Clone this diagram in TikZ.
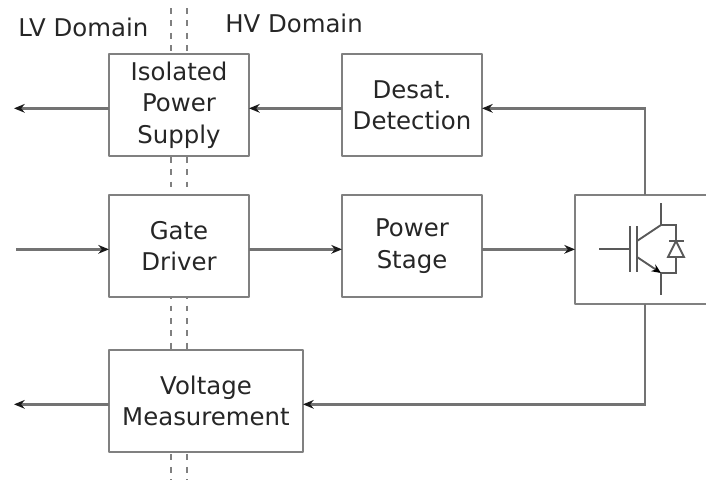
\documentclass[tikz,border=0pt]{standalone}
\usepackage{xcolor}
\usepackage{fontspec}
\setmainfont{DejaVu Sans}
\usetikzlibrary{arrows.meta, positioning, calc}

\begin{document}
\begin{tikzpicture}[
    x=0.75pt, y=-0.75pt,
    node distance=29.25pt and 69.75pt,
    block/.style={rectangle, draw=black!50, line width=1.9pt, line join=round, fill=white, inner sep=0pt, outer sep=0pt, minimum width=105pt, minimum height=76.5pt, align=center, text=black!85, font=\fontsize{18.3}{23.5}\selectfont},
    sidelabel/.style={inner sep=0pt, text=black!85, font=\fontsize{18.3}{22}\selectfont},
    arrow/.style={-{Stealth[length=8pt, width=6.5pt, color=black!90]}, line width=1.8pt, draw=black!55},
    barrier/.style={line width=1.9pt, draw=black!50, dash pattern=on 4.4pt off 4.9pt},
    device/.style={line width=1.4pt, draw=black!65}
]
\useasboundingbox (0,0) rectangle (706,480);

% Isolation barrier
\coordinate (barriertopa) at (171,8);
\coordinate (barrierbota) at (171,480);
\coordinate (barriertopb) at (187,8);
\coordinate (barrierbotb) at (187,480);
\draw[barrier] (barriertopa) -- (barrierbota);
\draw[barrier] (barriertopb) -- (barrierbotb);

% Domain labels
\node[sidelabel, anchor=base west] (lvlabel) at (18,36) {LV Domain};
\node[sidelabel, anchor=base west] (hvlabel) at (225,32) {HV Domain};

% Row 1: Supply and desaturation
\node[block, anchor=north west] (supply) at (109,54) {Isolated\\Power\\Supply};
\node[block, right=of supply] (desat) {Desat.\\Detection};

% Row 2: Driver, power stage, switch
\node[block, below=of supply] (driver) {Gate\\Driver};
\node[block, right=of driver] (stage) {\raisebox{1.5pt}{Power}\\\raisebox{1.5pt}{Stage}};
\node[block, anchor=north west, minimum height=81.75pt] (igbt) at (575,195) {};

% Row 3: Measurement
\node[block, anchor=north west, minimum width=145.5pt] (meas) at (109,350) {Voltage\\Measurement};

% Free ends
\coordinate (supplyout) at ([xshift=-71.25pt, yshift=-2.5pt]supply.west);
\coordinate (driverin) at ([xshift=-69.75pt, yshift=-2.5pt]driver.west);
\coordinate (measout) at ([xshift=-71.25pt, yshift=-2.5pt]meas.west);

% === Arrows ===
\draw[arrow] ([yshift=-2.5pt]supply.west) -- (supplyout);
\draw[arrow] ([yshift=-2.5pt]desat.west) -- ([yshift=-2.5pt]supply.east);
\draw[arrow] (igbt.north) |- ([yshift=-2.5pt]desat.east);
\draw[arrow] (driverin) -- ([yshift=-2.5pt]driver.west);
\draw[arrow] ([yshift=-2.5pt]driver.east) -- ([yshift=-2.5pt]stage.west);
\draw[arrow] ([yshift=-2.5pt]stage.east) -- ([yshift=-2.5pt]stage.east -| igbt.west);
\draw[arrow] (igbt.south) |- ([yshift=-2.5pt]meas.east);
\draw[arrow] ([yshift=-2.5pt]meas.west) -- (measout);

% Switch symbol
\coordinate (gatein) at (599,249);
\coordinate (collector) at (661,225);
\coordinate (emitter) at (661,273);
\draw[device] (gatein) -- (630,249);
\draw[device] (630,226) -- (630,272);
\draw[device] (637,226) -- (637,272);
\draw[device] (637,241) -- (collector) -- (661,203);
\draw[device, -{Stealth[length=7pt, width=6pt, color=black]}] (637,257) -- (emitter);
\draw[device] (emitter) -- (661,295);
\draw[device] (collector) -- (676,225) -- (676,241);
\draw[device] (emitter) -- (676,273) -- (676,257);
\draw[device] (676,241) -- (668,257) -- (684,257) -- cycle;
\draw[device] (669,241) -- (684,241);
\end{tikzpicture}
\end{document}
